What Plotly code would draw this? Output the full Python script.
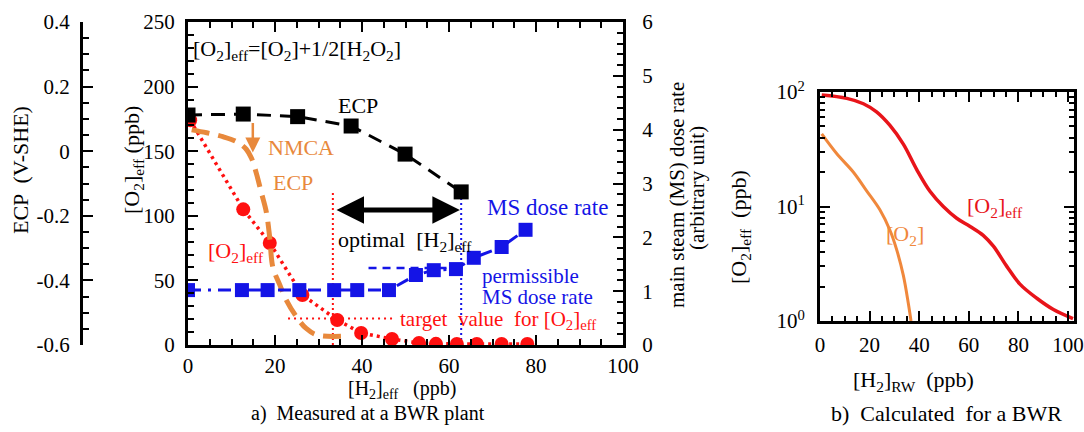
import plotly.graph_objects as go

W, H = 1084, 432
def px(x): return x / W
def py(y): return 1 - y / H

FONT = "Liberation Serif, Times New Roman, Times, serif"
BLACK = "#000000"
RED = "#FF1010"
ORANGE = "#E8893C"
BLUE = "#1414E6"
RED_B = "#E8141A"
ORANGE_B = "#F0883C"
FS = 21
FA = 22

# ---------------- panel a) measured data ----------------
ecp_h2 = [0, 12.7, 25.2, 37.5, 49.9, 62.8]
ecp_v = [0.112, 0.115, 0.107, 0.078, -0.009, -0.126]

nmca_h2 = [0.85, 4.3, 8.0, 11.2, 13.4, 14.6, 15.7, 16.9, 18.0, 18.8, 19.5, 21.1, 22.6, 24.9, 27.1, 29.7, 36.6]
nmca_v = [0.066, 0.057, 0.045, 0.029, 0.006, -0.022, -0.068, -0.130, -0.188, -0.269, -0.359, -0.414, -0.461, -0.512, -0.548, -0.569, -0.572]

o2eff_h2 = [0.5, 12.7, 18.8, 26.3, 34.3, 39.8, 46.9, 53.1, 57.0, 61.8, 66.4, 72.1, 78.0]
o2eff_ppb = [174, 105, 79, 38.7, 19.4, 9.3, 4.6, 1.5, 0.9, 0.8, 0.8, 0.8, 0.8]

ms_h2 = [0, 12.4, 18.3, 25.6, 33.6, 38.9, 46.2, 52.4, 56.5, 61.6, 65.7, 72.1, 77.6]
ms_rate = [1.02, 1.02, 1.02, 1.02, 1.02, 1.02, 1.02, 1.30, 1.39, 1.41, 1.62, 1.82, 2.14]

target_h2 = [23.0, 47.0]
target_o2 = [20.5, 20.5]
permissible_h2 = [41.5, 61.0]
permissible_ms = [1.43, 1.43]
optimal_h2 = [33.3, 62.8]
optimal_top_ppb = 118

x_ticks_a = [0, 20, 40, 60, 80, 100]
o2_ticks = [0, 50, 100, 150, 200, 250]
ecp_ticks = [-0.6, -0.4, -0.2, 0, 0.2, 0.4]
ecp_ticktext = ["-0.6", "-0.4", "-0.2", "0", "0.2", "0.4"]
ms_ticks = [0, 1, 2, 3, 4, 5, 6]

# ---------------- panel b) calculated ----------------
calc_h2_eff = [0.7, 10.8, 17.5, 22.8, 28.2, 33.6, 39, 44.4, 49.7, 55.1, 60.5, 65.8, 69.9, 75.3, 80.6, 87.4, 94.1, 102]
calc_o2_eff = [94, 88, 79, 67, 51, 35, 21, 13.5, 10, 7.9, 6.7, 5.6, 4.5, 3.0, 2.1, 1.58, 1.26, 1.05]
calc_h2_o2 = [0.7, 6.7, 13.4, 18.8, 24.2, 28.2, 30.9, 33.6, 35.6, 36.7]
calc_o2 = [43, 29, 20, 13.7, 9.3, 6.2, 4.2, 2.5, 1.43, 1.0]

x_ticks_b = [0, 20, 40, 60, 80, 100]
log_ticks = [1, 10, 100]
log_ticktext = ["10<sup>0</sup>", "10<sup>1</sup>", "10<sup>2</sup>"]
log_minor = [2, 3, 4, 5, 6, 7, 8, 9, 20, 30, 40, 50, 60, 70, 80, 90]

fig = go.Figure()

fig.add_trace(go.Scatter(x=[optimal_h2[0], optimal_h2[0]], y=[0, optimal_top_ppb], mode="lines",
                         line=dict(color=RED, width=2, dash="2px,3px"), xaxis="x", yaxis="y"))
fig.add_trace(go.Scatter(x=[optimal_h2[1], optimal_h2[1]], y=[0, optimal_top_ppb], mode="lines",
                         line=dict(color=BLUE, width=2, dash="2px,3px"), xaxis="x", yaxis="y"))
fig.add_trace(go.Scatter(x=target_h2, y=target_o2, mode="lines",
                         line=dict(color=RED, width=2, dash="2px,4px"), xaxis="x", yaxis="y"))
fig.add_trace(go.Scatter(x=o2eff_h2, y=o2eff_ppb, mode="lines+markers",
                         line=dict(color=RED, width=3.5, dash="3px,4px"),
                         marker=dict(color=RED, size=14, symbol="circle"), xaxis="x", yaxis="y"))
fig.add_trace(go.Scatter(x=nmca_h2, y=nmca_v, mode="lines", line_shape="spline",
                         line=dict(color=ORANGE, width=5, dash="18px,9px"), xaxis="x", yaxis="y2"))
fig.add_trace(go.Scatter(x=ecp_h2, y=ecp_v, mode="lines+markers",
                         line=dict(color=BLACK, width=3, dash="14px,9px"),
                         marker=dict(color=BLACK, size=15, symbol="square"), xaxis="x", yaxis="y2"))
fig.add_trace(go.Scatter(x=permissible_h2, y=permissible_ms, mode="lines",
                         line=dict(color=BLUE, width=2.5, dash="8px,6px"), xaxis="x", yaxis="y3"))
fig.add_trace(go.Scatter(x=ms_h2, y=ms_rate, mode="lines+markers",
                         line=dict(color=BLUE, width=3, dash="13px,7px,3px,7px"),
                         marker=dict(color=BLUE, size=14, symbol="square"), xaxis="x", yaxis="y3"))

fig.add_trace(go.Scatter(x=calc_h2_eff, y=calc_o2_eff, mode="lines", line_shape="spline",
                         line=dict(color=RED_B, width=3.5), xaxis="x2", yaxis="y4"))
fig.add_trace(go.Scatter(x=calc_h2_o2, y=calc_o2, mode="lines", line_shape="spline",
                         line=dict(color=ORANGE_B, width=3), xaxis="x2", yaxis="y4"))

tickfont = dict(family=FONT, size=FS, color=BLACK)
axis_common = dict(showline=True, linewidth=3, linecolor=BLACK, ticks="inside", ticklen=10,
                   tickwidth=2, tickcolor=BLACK, showgrid=False, zeroline=False, tickfont=tickfont,
                   automargin=False)

def minor(d, t0=0, ln=6, w=2):
    return dict(tickmode="linear", tick0=t0, dtick=d, ticks="inside", ticklen=ln, tickwidth=w, tickcolor=BLACK)

dom_ax = [px(188), px(623)]
dom_ay = [py(345), py(22)]

fig.update_layout(
    width=W, height=H, margin=dict(l=0, r=0, t=0, b=0, autoexpand=False),
    paper_bgcolor="white", plot_bgcolor="white", showlegend=False,
    font=dict(family=FONT, size=FS, color=BLACK),
    xaxis=dict(domain=dom_ax, range=[0, 100], anchor="y", tickmode="array", tickvals=x_ticks_a,
               mirror="ticks", minor=minor(5), ticklabelstandoff=0, **axis_common),
    yaxis=dict(domain=dom_ay, range=[0, 250], anchor="x", tickmode="array", tickvals=o2_ticks,
               mirror=False, minor=minor(10), ticklabelstandoff=6, **axis_common),
    yaxis2=dict(domain=dom_ay, range=[-0.6, 0.4], overlaying="y", anchor="free", position=px(81), side="left",
                tickmode="array", tickvals=ecp_ticks, ticktext=ecp_ticktext,
                minor=minor(0.05, t0=-0.6), ticklabelstandoff=6, **axis_common),
    yaxis3=dict(domain=dom_ay, range=[0, 6], overlaying="y", anchor="x", side="right",
                tickmode="array", tickvals=ms_ticks, minor=minor(0.2), ticklabelstandoff=12, **axis_common),
    xaxis2=dict(domain=[px(820), px(1074)], range=[0, 102.4], anchor="y4", tickmode="array",
                tickvals=x_ticks_b, mirror="ticks", minor=minor(5, ln=5, w=1.5), ticklabelstandoff=3,
                **axis_common),
    yaxis4=dict(domain=[py(321), py(92)], type="log", range=[0, 2], anchor="x2", tickmode="array",
                tickvals=log_ticks, ticktext=log_ticktext, mirror="ticks",
                minor=dict(tickmode="array", tickvals=log_minor, ticks="inside", ticklen=5,
                           tickwidth=1.5, tickcolor=BLACK), ticklabelstandoff=8, **axis_common),
)

def ann(x, y, text, color=BLACK, size=FA, xanchor="center", angle=0):
    fig.add_annotation(x=px(x), y=py(y), xref="paper", yref="paper", text=text, showarrow=False,
                       font=dict(family=FONT, size=size, color=color), xanchor=xanchor, yanchor="middle",
                       textangle=angle)

ann(191, 50, "[O<sub>2</sub>]<sub>eff</sub>=[O<sub>2</sub>]+1/2[H<sub>2</sub>O<sub>2</sub>]", xanchor="left")
ann(358, 106, "ECP")
ann(301, 147, "NMCA", color=ORANGE)
ann(293, 182, "ECP", color=ORANGE)
ann(405, 241, "optimal  [H<sub>2</sub>]<sub>eff</sub>")
ann(236, 252, "[O<sub>2</sub>]<sub>eff</sub>", color=RED)
ann(547, 208, "MS dose rate", color=BLUE, size=23)
ann(480, 276, "permissible", color=BLUE, xanchor="left", size=21)
ann(480, 297, "MS dose rate", color=BLUE, xanchor="left", size=21)
ann(398, 320, "target  value  for [O<sub>2</sub>]<sub>eff</sub>", color=RED, xanchor="left", size=21)

ann(20, 170, "ECP  (V-SHE)", angle=-90)
ann(133, 160, "[O<sub>2</sub>]<sub>eff</sub> (ppb)", angle=-90)
ann(677, 195, "main steam (MS) dose rate", size=FS, angle=-90)
ann(697, 188, "(arbitrary unit)", size=FS, angle=-90)
ann(402, 389, "[H<sub>2</sub>]<sub>eff</sub>   (ppb)", size=20)
ann(368, 413, "a)  Measured at a BWR plant", size=20)

ann(995, 207, "[O<sub>2</sub>]<sub>eff</sub>", color=RED_B)
ann(905, 235, "[O<sub>2</sub>]", color=ORANGE_B)
ann(740, 227, "[O<sub>2</sub>]<sub>eff</sub>  (ppb)", angle=-90)
ann(913, 381, "[H<sub>2</sub>]<sub>RW</sub>  (ppb)")
ann(946, 413, "b)  Calculated  for a BWR")

fig.add_annotation(x=optimal_h2[1] - 0.3, y=104.5, ax=optimal_h2[0] + 0.5, ay=104.5, xref="x", yref="y",
                   axref="x", ayref="y", text="", showarrow=True, arrowside="end+start",
                   arrowhead=2, startarrowhead=2, arrowsize=1.1, startarrowsize=1.1,
                   arrowwidth=5, arrowcolor=BLACK)
fig.add_annotation(x=14.9, y=149, ax=14.9, ay=173, xref="x", yref="y", axref="x", ayref="y",
                   text="", showarrow=True, arrowhead=2, arrowsize=1.2, arrowwidth=2.5, arrowcolor=ORANGE)

fig.write_html("out.html", config={"displayModeBar": False},
               post_script="document.body.style.margin='0';document.body.style.overflow='hidden';")
